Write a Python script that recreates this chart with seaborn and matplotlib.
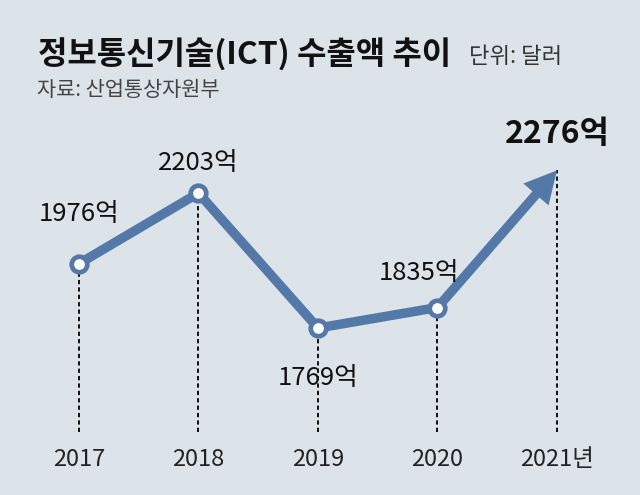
"""ICT export trend chart (2017-2021), recreated with seaborn."""

import matplotlib
matplotlib.use("Agg")
import matplotlib.pyplot as plt
import seaborn as sns
import pandas as pd

years = ["2017", "2018", "2019", "2020", "2021년"]
exports = [1976, 2203, 1769, 1835, 2276]
labels = ["1976억", "2203억", "1769억", "1835억", "2276억"]
# label offsets in points (dx, dy) relative to each point
label_offsets = [(0, 36), (0, 22), (0, -36), (-13, 25), (0, 26)]

title = "정보통신기술(ICT) 수출액 추이"
unit = "단위: 달러"
source = "자료: 산업통상자원부"

BG = "#dce4ea"
LINE = "#5479a9"
TEXT = "#222222"

sns.set_theme(style="white")
plt.rcParams["font.family"] = ["Noto Sans CJK KR", "DejaVu Sans"]

df = pd.DataFrame({"x": range(len(years)), "value": exports})

fig = plt.figure(figsize=(6.4, 4.95), dpi=100, facecolor=BG)
ax = fig.add_axes([0, 0, 1, 1])
ax.set_facecolor(BG)
ax.set_xlim(-0.661, 4.695)
ylo, yhi = 1232, 2824
ax.set_ylim(ylo, yhi)
ax.axis("off")

# dotted drop lines
bottom = ylo + 0.127 * (yhi - ylo)
ax.vlines(df["x"], bottom, df["value"], colors="#111111", linestyles=(0, (2.2, 1.6)),
          linewidth=1.4, zorder=1)

# main line (first four points) + arrow to the last one
sns.lineplot(data=df.iloc[:4], x="x", y="value", ax=ax, color=LINE, linewidth=6.8,
             solid_capstyle="round", solid_joinstyle="round", zorder=3)
ax.annotate("", xy=(df["x"].iloc[4], df["value"].iloc[4]),
            xytext=(df["x"].iloc[3], df["value"].iloc[3]),
            arrowprops=dict(arrowstyle="simple,head_length=2.3,head_width=2.4,tail_width=0.68",
                            color=LINE, lw=0, shrinkA=0, shrinkB=0, mutation_scale=10),
            zorder=3)
sns.scatterplot(data=df.iloc[:4], x="x", y="value", ax=ax, s=125, color="white",
                edgecolor=LINE, linewidth=3.4, zorder=4)

for i, (x, v, lab) in enumerate(zip(df["x"], df["value"], labels)):
    last = i == len(labels) - 1
    ax.annotate(lab, (x, v), xytext=label_offsets[i], textcoords="offset points",
                ha="center", va="center", color="#111111",
                fontsize=23 if last else 18.5, fontweight="bold" if last else "normal")

for x, yr in zip(df["x"], years):
    ax.text(x, 0.071, yr, transform=ax.get_xaxis_transform(), ha="center", va="center",
            fontsize=17, color=TEXT)

fig.text(0.060, 0.889, title, fontsize=23, fontweight="bold", color="#111111", va="center")
fig.text(0.733, 0.885, unit, fontsize=16, color="#333333", va="center")
fig.text(0.058, 0.818, source, fontsize=15, color="#444444", va="center")

fig.savefig("out.png", dpi=100, facecolor=BG)
